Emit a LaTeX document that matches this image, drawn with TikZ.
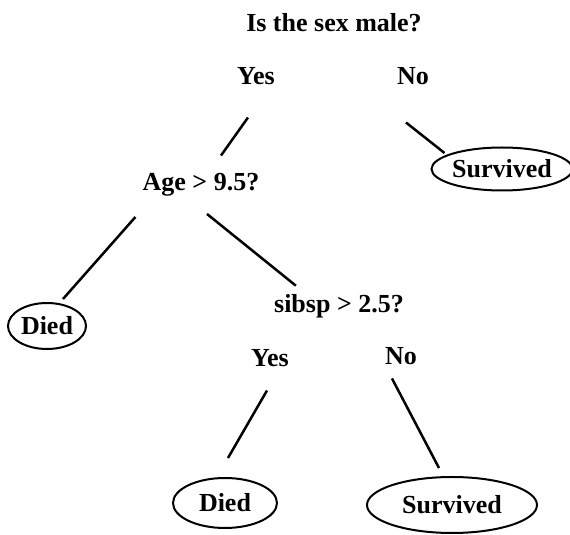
\documentclass[tikz,border=0pt]{standalone}
\usepackage{fontspec}
\setmainfont{Liberation Serif}
\usepackage{tikz}
\usetikzlibrary{shapes.geometric}

\begin{document}
\begin{tikzpicture}[x=0.5pt, y=-0.5pt, line width=1.25pt,
                    ask node/.style={inner sep=0pt, anchor=base, font=\fontsize{13}{15}\selectfont\bfseries},
                    leaf node/.style={ellipse, draw, line width=1pt, inner sep=0pt, font=\fontsize{13}{15}\selectfont\bfseries}]
  \useasboundingbox (0,0) rectangle (570,535);
  \node[ask node] (sex) at (334,32) {Is the sex male?};
  \node[ask node] (yes1) at (256,85) {Yes};
  \node[ask node] (no1) at (413,85) {No};
  \node[ask node] (age) at (201,191) {Age > 9.5?};
  \node[leaf node, minimum width=66pt, minimum height=21.5pt] (surv1) at (502,169) {Survived};
  \node[leaf node, minimum width=39pt, minimum height=23pt] (died1) at (47,326) {Died};
  \node[ask node] (sibsp) at (339,313) {sibsp > 2.5?};
  \node[ask node] (yes2) at (270,367) {Yes};
  \node[ask node] (no2) at (401,365) {No};
  \node[leaf node, minimum width=52pt, minimum height=25pt] (died2) at (225,503) {Died};
  \node[leaf node, minimum width=85pt, minimum height=28pt] (surv2) at (452,505) {Survived};
  \path[draw]
    ([shift={(-8,31)}]yes1.south) edge ([shift={(20,-17)}]age.north)
    ([shift={(-7,36)}]no1.south) edge ([shift={(14,-16)}]surv1.west)
    ([shift={(-6,19)}]age.south west) edge ([shift={(16,-3)}]died1.north)
    ([shift={(6,16)}]age.south) edge ([shift={(23,-8)}]sibsp.north west)
    ([shift={(-3,22)}]yes2.south) edge ([shift={(3,-19)}]died2.north)
    ([shift={(-9,12)}]no2.south) edge ([shift={(-13,-8)}]surv2.north);
\end{tikzpicture}
\end{document}
